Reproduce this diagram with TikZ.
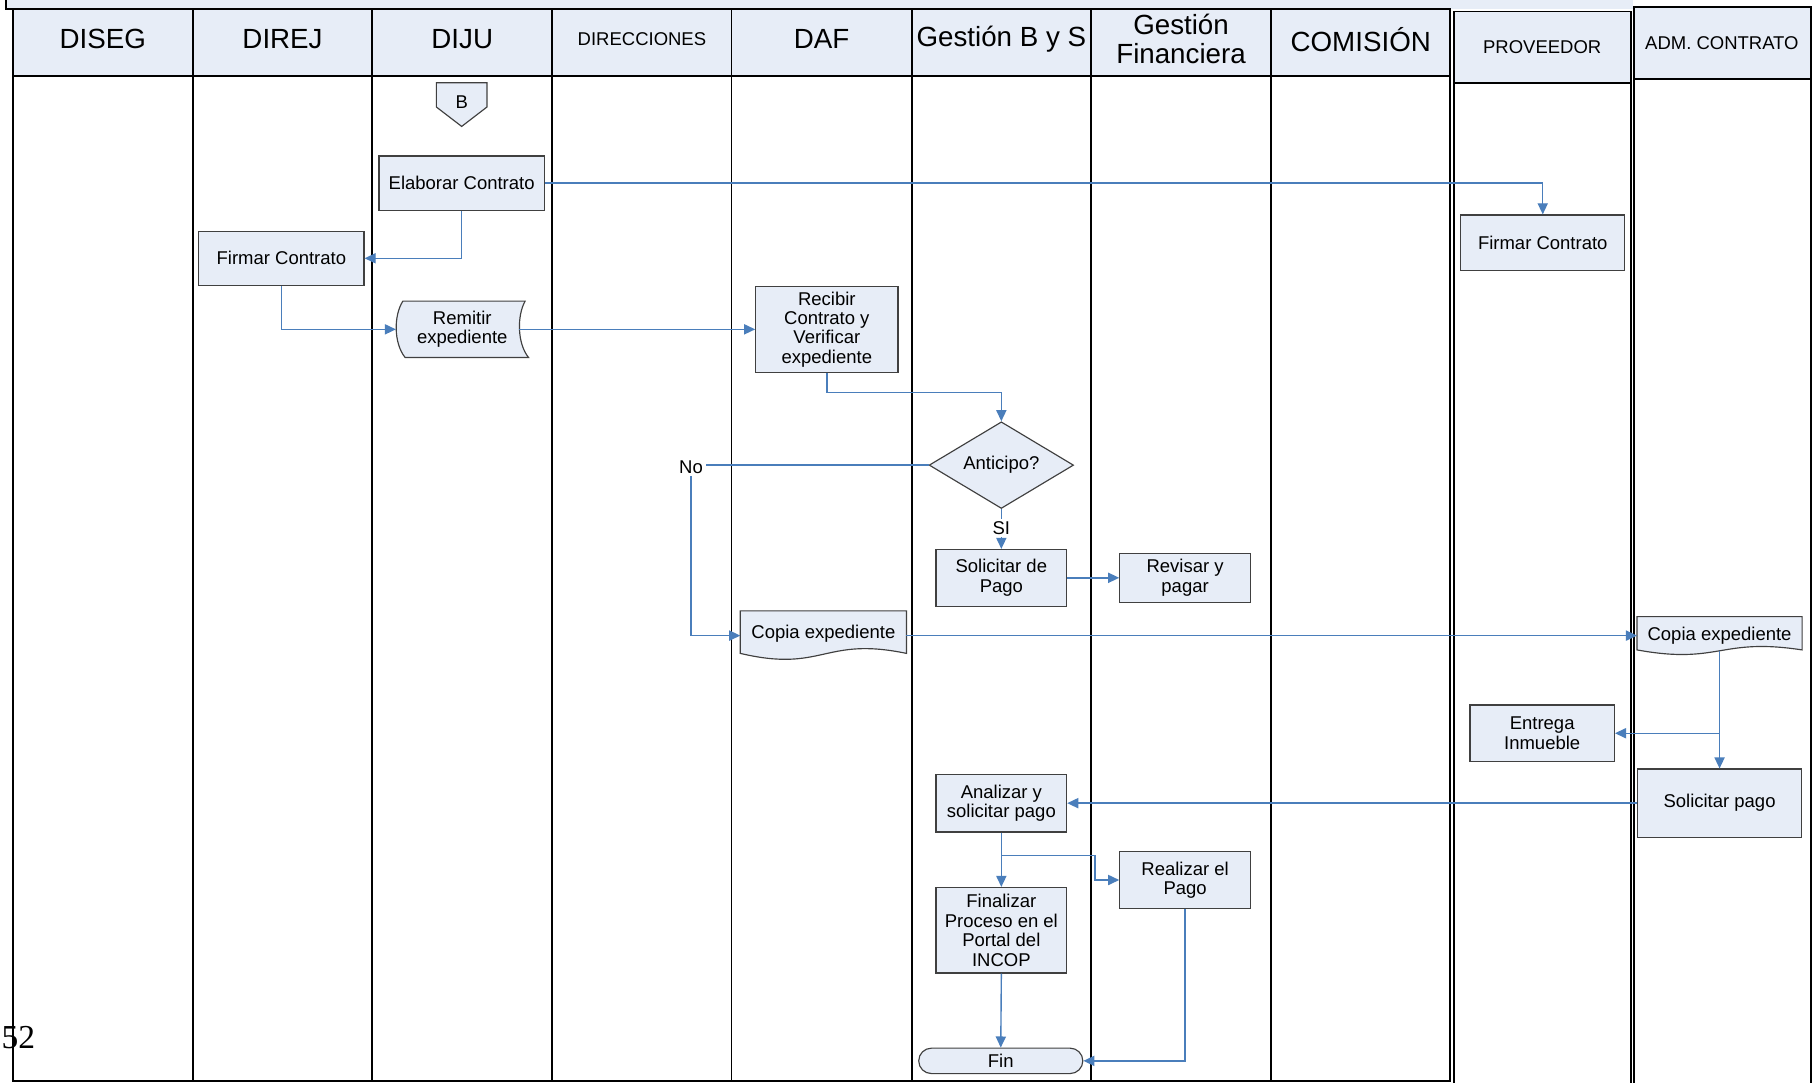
\documentclass[tikz,border=0pt]{standalone}
\usepackage{fontspec}
\setmainfont{Liberation Sans}
\newfontfamily\pagenumfont{Liberation Serif}
\usetikzlibrary{arrows.meta,shapes.geometric,calc,backgrounds}
\definecolor{cellfill}{RGB}{231,237,247}
\definecolor{boxline}{RGB}{64,64,64}
\definecolor{flowblue}{RGB}{74,126,187}
\begin{document}
\begin{tikzpicture}[x=0.5pt,y=-0.5pt,
  lane/.style={draw=black,line width=0.8pt},
  hdrtext/.style={font=\fontsize{12}{12.5}\selectfont,align=center,inner sep=0pt},
  hdrsmall/.style={font=\fontsize{8}{9}\selectfont,align=center,inner sep=0pt},
  boxtext/.style={font=\fontsize{8}{8.4}\selectfont,align=center,inner sep=0pt},
  sz/.style 2 args={minimum width={#1*0.5pt},minimum height={#2*0.5pt}},
  proc/.style={boxtext,rectangle,draw=boxline,fill=cellfill,line width=0.5pt},
  shapeonly/.style={boxtext,rectangle},
  shapefill/.style={draw=boxline,fill=cellfill,line width=0.5pt},
  decision/.style={boxtext,diamond,aspect=2,draw=boxline,fill=cellfill,line width=0.5pt},
  terminal/.style={boxtext,rectangle,rounded corners=5.5pt,draw=boxline,fill=cellfill,line width=0.5pt},
  flow/.style={draw=flowblue,line width=0.6pt,-{Triangle[length=4.8pt,width=4.4pt]}},
  link/.style={draw=flowblue,line width=0.6pt},
  lbl/.style={font=\fontsize{8}{9}\selectfont,inner sep=1pt},
]
\useasboundingbox (0,0) rectangle (1568,937);

% ---------- swimlanes ----------
\begin{scope}[on background layer]
  % strip left over from the row above
  \fill[cellfill] (5,0) rectangle (1413,8);
  \draw[lane] (5,0) -- (5,8) -- (11,8);
  % shared table with its header band
  \fill[cellfill] (11,8) rectangle (1255,66);
  \draw[lane] (11,8) rectangle (1255,935.5);
  \draw[lane] (11,66) -- (1255,66);
  \foreach \x in {167,322,478,633,789,944,1100}
    \draw[lane] (\x,8) -- (\x,935.5);
  % PROVEEDOR lane
  \fill[cellfill] (1258,10) rectangle (1411,72);
  \draw[lane] (1258,938) -- (1258,10) -- (1411,10) -- (1411,938);
  \draw[lane] (1258,72) -- (1411,72);
  % ADM. CONTRATO lane
  \fill[cellfill] (1414,6) rectangle (1567,68);
  \draw[lane] (1414,938) -- (1414,6) -- (1567,6) -- (1567,938);
  \draw[lane] (1414,68) -- (1567,68);
\end{scope}

% ---------- lane titles ----------
\node[hdrtext]  (hA) at (89,34)    {DISEG};
\node[hdrtext]  (hB) at (244.5,34) {DIREJ};
\node[hdrtext]  (hC) at (400,34)   {DIJU};
\node[hdrsmall] (hD) at (555.5,34) {DIRECCIONES};
\node[hdrtext]  (hE) at (711,34)   {DAF};
\node[hdrtext]  (hF) at (866.5,34) {Gestión B y S};
\node[hdrtext]  (hG) at (1022,34)  {Gestión\\Financiera};
\node[hdrtext]  (hH) at (1177.5,34){COMISIÓN};
\node[hdrsmall] (hI) at (1334.5,41){PROVEEDOR};
\node[hdrsmall] (hJ) at (1490,37)  {ADM. CONTRATO};

% ---------- steps ----------
\node[shapeonly,sz={43}{37}] (conB) at (399.5,90.5) {\raisebox{2.2pt}{B}};
\node[proc,sz={143}{47}] (elab)   at (399.5,158.5) {Elaborar Contrato};
\node[proc,sz={143}{47}] (firm1)  at (243.5,223.5) {Firmar Contrato};
\node[proc,sz={142}{48}] (firm2)  at (1335,210)    {Firmar Contrato};
\node[shapeonly,sz={114}{48}] (remit) at (400,285) {Remitir\\expediente};
\node[proc,sz={123}{74}] (recib)  at (715.5,285)   {Recibir\\Contrato y\\Verificar\\expediente};
\node[decision,sz={125}{75}] (antic) at (866.5,402.5) {Anticipo?};
\node[lbl] (no) at (598,404) {No};
\node[lbl] (si) at (866.5,457) {SI};
\node[proc,sz={113}{49}] (solic)  at (866.5,500)   {Solicitar de\\Pago};
\node[proc,sz={113}{42}] (revis)  at (1025.5,500)  {Revisar y\\pagar};
\node[shapeonly,sz={143}{42}] (copia1) at (712.5,550) {\raisebox{3pt}{Copia expediente}};
\node[shapeonly,sz={142}{32}] (copia2) at (1488,550)  {\raisebox{1.7pt}{Copia expediente}};
\node[proc,sz={125}{49}] (entrega) at (1334.5,634.5) {Entrega\\Inmueble};
\node[proc,sz={142}{59}] (solpago) at (1488,695)    {Solicitar pago};
\node[proc,sz={113}{50}] (analiz)  at (866.5,695)   {Analizar y\\solicitar pago};
\node[proc,sz={113}{49}] (realiz)  at (1025.5,761.5){Realizar el\\Pago};
\node[proc,sz={113}{74}] (final)   at (866.5,805)   {Finalizar\\Proceso en el\\Portal del\\INCOP};
\node[terminal,sz={142}{22}] (fin) at (866,918) {Fin};

% ---------- outlines of the special symbols ----------
\begin{scope}[on background layer]
  % off-page connector
  \path[shapefill] (conB.north west) -- (conB.north east)
    -- ($(conB.north east)+(0,21)$) -- (conB.south)
    -- ($(conB.north west)+(0,21)$) -- cycle;
  % stored-data symbol
  \path[shapefill] ($(remit.north west)+(6,0)$) -- ($(remit.north east)+(-3,0)$)
    .. controls ($(remit.east)+(-10,-12)$) and ($(remit.east)+(-10,12)$) .. (remit.south east)
    -- ($(remit.south west)+(8,0)$)
    .. controls ($(remit.west)+(-2,12)$) and ($(remit.west)+(-2,-12)$) .. ($(remit.north west)+(6,0)$)
    -- cycle;
  % document symbols
  \path[shapefill] (copia1.north west) -- (copia1.north east) -- ($(copia1.south east)+(0,-6)$)
    .. controls ($(copia1.south)+(0,-21)$) and ($(copia1.south)+(0,11)$) .. ($(copia1.south west)+(0,-6)$)
    -- cycle;
  \path[shapefill] (copia2.north west) -- (copia2.north east) -- ($(copia2.south east)+(0,-4)$)
    .. controls ($(copia2.south)+(0,-15)$) and ($(copia2.south)+(0,9)$) .. ($(copia2.south west)+(0,-4)$)
    -- cycle;
\end{scope}

% ---------- connectors ----------
\draw[flow] (elab.east) -| (firm2.north);
\draw[flow] (elab.south) |- (firm1.east);
\draw[flow] (firm1.south) |- (remit.west);
\draw[flow] ($(remit.east)+(-8,0)$) -- (recib.west);
\draw[flow] (recib.south) -- ++(0,17) -| (antic.north);
\draw[link] (antic.west) -- (antic.west -| no.east);
\draw[flow] (no.south) |- (copia1.west);
\draw[link] (antic.south) -- (si.north);
\draw[flow] (si.south) -- (solic.north);
\draw[flow] (solic.east) -- (revis.west);
\draw[flow] (copia1.east) -- (copia2.west);
\draw[flow] ([yshift=1.5pt]copia2.south) -- (solpago.north);
\draw[flow] (copia2.south |- entrega.east) -- (entrega.east);
\draw[flow] (solpago.west) -- (analiz.east);
\draw[flow] (analiz.south) -- (final.north);
\coordinate (split) at ($(analiz.south)+(0,20)$);
\draw[flow] (split) -- ++(81,0) |- (realiz.west);
\draw[flow] (final.south) -- (fin.north);
\draw[flow] (realiz.south) |- (fin.east);

% page number
\node[font=\pagenumfont\fontsize{14.5}{15}\selectfont,inner sep=0pt] (pnum) at (16,898) {52};
\end{tikzpicture}
\end{document}
